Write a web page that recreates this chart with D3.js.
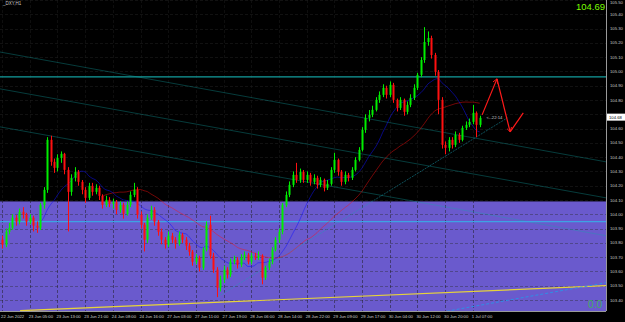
<!DOCTYPE html>
<html>
<head>
<meta charset="utf-8">
<script src="https://cdn.jsdelivr.net/npm/d3@7"></script>
<style>
  body { margin: 0; background: #000; }
  svg { display: block; }
</style>
</head>
<body>
<div id="wrapper"></div>
<script>
// chart data (H1 bars, bar index 0 = left edge)
const symbolLabel = "_DXY,H1"
const timeLabels = ["22 Jun 2022", "23 Jun 05:00", "23 Jun 13:00", "23 Jun 21:00", "24 Jun 08:00",
  "24 Jun 16:00", "27 Jun 03:00", "27 Jun 11:00", "27 Jun 19:00", "28 Jun 06:00", "28 Jun 14:00",
  "28 Jun 22:00", "29 Jun 09:00", "29 Jun 17:00", "30 Jun 04:00", "30 Jun 12:00", "30 Jun 20:00",
  "1 Jul 07:00"]
const labelEvery = 8
const priceTicks = ["103.40", "103.50", "103.60", "103.70", "103.80", "103.90", "104.00", "104.10",
  "104.20", "104.30", "104.40", "104.50", "104.60", "104.70", "104.80", "104.90", "105.00", "105.10",
  "105.20", "105.30", "105.40", "105.50"]

const opens = [103.822, 103.787, 103.878, 103.906, 103.976, 103.948, 104.017, 103.997, 103.948, 103.976,
  103.920, 103.906, 104.066, 104.171, 104.521, 104.367, 104.325, 104.395, 104.423, 104.311,
  104.157, 104.255, 104.297, 104.227, 104.171, 104.115, 104.199, 104.157, 104.185, 104.129,
  104.066, 104.101, 104.073, 104.087, 104.031, 104.066, 104.003, 104.066, 104.136, 104.171,
  103.997, 103.927, 103.822, 103.976, 104.031, 103.948, 103.878, 103.822, 103.787, 103.850,
  103.822, 103.794, 103.857, 103.822, 103.780, 103.738, 103.668, 103.696, 103.626, 103.752,
  103.927, 103.710, 103.612, 103.486, 103.542, 103.612, 103.577, 103.668, 103.682, 103.647,
  103.696, 103.717, 103.668, 103.710, 103.696, 103.710, 103.556, 103.626, 103.668, 103.752,
  103.822, 103.878, 104.066, 104.136, 104.206, 104.276, 104.241, 104.297, 104.241, 104.276,
  104.227, 104.255, 104.206, 104.241, 104.185, 104.213, 104.311, 104.381, 104.297, 104.227,
  104.276, 104.255, 104.311, 104.381, 104.451, 104.591, 104.675, 104.696, 104.731, 104.801,
  104.836, 104.885, 104.836, 104.906, 104.801, 104.745, 104.801, 104.717, 104.766, 104.815,
  104.885, 104.976, 105.080, 105.206, 105.234, 105.115, 104.997, 104.801, 104.486, 104.465,
  104.521, 104.486, 104.556, 104.521, 104.605, 104.626, 104.647, 104.710, 104.626]
const highs = [103.850, 103.900, 103.940, 104.000, 103.995, 104.040, 104.050, 104.010, 104.000, 103.990,
  103.950, 104.080, 104.190, 104.540, 104.550, 104.390, 104.420, 104.440, 104.430, 104.330,
  104.280, 104.330, 104.310, 104.240, 104.190, 104.220, 104.220, 104.210, 104.200, 104.140,
  104.130, 104.120, 104.110, 104.100, 104.090, 104.080, 104.090, 104.160, 104.220, 104.190,
  104.020, 103.940, 104.000, 104.060, 104.050, 103.960, 103.900, 103.840, 103.880, 103.870,
  103.840, 103.880, 103.870, 103.840, 103.800, 103.750, 103.720, 103.710, 103.770, 103.950,
  103.990, 103.730, 103.630, 103.570, 103.640, 103.630, 103.690, 103.710, 103.700, 103.720,
  103.740, 103.730, 103.730, 103.730, 103.740, 103.720, 103.640, 103.690, 103.770, 103.840,
  103.900, 104.080, 104.160, 104.230, 104.300, 104.360, 104.320, 104.310, 104.300, 104.290,
  104.280, 104.270, 104.260, 104.250, 104.240, 104.330, 104.430, 104.390, 104.310, 104.300,
  104.290, 104.330, 104.400, 104.470, 104.610, 104.700, 104.730, 104.760, 104.820, 104.860,
  104.910, 104.900, 104.930, 104.920, 104.810, 104.820, 104.810, 104.790, 104.840, 104.910,
  104.990, 105.100, 105.310, 105.280, 105.250, 105.130, 105.010, 104.820, 104.510, 104.540,
  104.540, 104.580, 104.570, 104.620, 104.650, 104.670, 104.766, 104.720, 104.690]
const lows = [103.760, 103.770, 103.860, 103.890, 103.920, 103.930, 103.970, 103.920, 103.930, 103.880,
  103.870, 103.890, 104.040, 104.150, 104.340, 104.290, 104.300, 104.360, 104.280, 103.880,
  104.130, 104.230, 104.200, 104.140, 104.080, 104.100, 104.130, 104.140, 104.100, 104.040,
  104.050, 104.050, 104.040, 104.000, 104.010, 103.970, 103.990, 104.050, 104.120, 103.970,
  103.900, 103.740, 103.800, 103.960, 103.920, 103.850, 103.790, 103.760, 103.770, 103.800,
  103.760, 103.780, 103.800, 103.750, 103.710, 103.640, 103.650, 103.600, 103.610, 103.740,
  103.690, 103.590, 103.420, 103.460, 103.520, 103.550, 103.560, 103.650, 103.620, 103.630,
  103.680, 103.650, 103.650, 103.680, 103.680, 103.510, 103.540, 103.610, 103.650, 103.740,
  103.800, 103.860, 104.050, 104.120, 104.190, 104.220, 104.220, 104.220, 104.220, 104.200,
  104.210, 104.180, 104.190, 104.160, 104.170, 104.200, 104.290, 104.270, 104.200, 104.210,
  104.230, 104.240, 104.300, 104.370, 104.440, 104.570, 104.650, 104.680, 104.720, 104.780,
  104.820, 104.810, 104.820, 104.780, 104.720, 104.730, 104.690, 104.700, 104.750, 104.800,
  104.870, 104.960, 105.060, 105.180, 105.090, 104.970, 104.700, 104.460, 104.420, 104.440,
  104.460, 104.470, 104.500, 104.510, 104.590, 104.610, 104.630, 104.540, 104.610]
const closes = [103.787, 103.878, 103.906, 103.976, 103.948, 104.017, 103.997, 103.948, 103.976, 103.920,
  103.906, 104.066, 104.171, 104.521, 104.367, 104.325, 104.395, 104.423, 104.311, 104.157,
  104.255, 104.297, 104.227, 104.171, 104.115, 104.199, 104.157, 104.185, 104.129, 104.066,
  104.101, 104.073, 104.087, 104.031, 104.066, 104.003, 104.066, 104.136, 104.171, 103.997,
  103.927, 103.822, 103.976, 104.031, 103.948, 103.878, 103.822, 103.787, 103.850, 103.822,
  103.794, 103.857, 103.822, 103.780, 103.738, 103.668, 103.696, 103.626, 103.752, 103.927,
  103.710, 103.612, 103.486, 103.542, 103.612, 103.577, 103.668, 103.682, 103.647, 103.696,
  103.717, 103.668, 103.710, 103.696, 103.710, 103.556, 103.626, 103.668, 103.752, 103.822,
  103.878, 104.066, 104.136, 104.206, 104.276, 104.241, 104.297, 104.241, 104.276, 104.227,
  104.255, 104.206, 104.241, 104.185, 104.213, 104.311, 104.381, 104.297, 104.227, 104.276,
  104.255, 104.311, 104.381, 104.451, 104.591, 104.675, 104.696, 104.731, 104.801, 104.836,
  104.885, 104.836, 104.906, 104.801, 104.745, 104.801, 104.717, 104.766, 104.815, 104.885,
  104.976, 105.080, 105.206, 105.234, 105.115, 104.997, 104.801, 104.486, 104.465, 104.521,
  104.486, 104.556, 104.521, 104.605, 104.626, 104.647, 104.710, 104.626, 104.675]

const fastPeriod = 12
const slowPeriod = 30

// chart objects: [barIndex, price] pairs
const zoneTop = 104.09
const resistanceLevel = 104.962
const zoneLevel = 103.948
const channelLines = [
  [[-0.6, 105.136], [174.5, 104.367]],
  [[-0.6, 104.878], [174.5, 104.115]],
  [[-0.6, 104.612], [174.5, 103.850]],
]
const supportLine = [[62.4, 103.423], [146, 104.675]]
const yellowLine = [[5.2, 103.325], [174.5, 103.50]]
const blueDashLine = [[122.8, 103.297], [174.5, 103.521]]
const arrowPath = [[138.7, 104.696], [143, 104.948], [146.8, 104.577], [150.6, 104.71]]
const lastPrice = "104.68"
const bidText = "104.69"
const countdown = "<--22:14"

async function drawChart() {
  const dimensions = { width: 625, height: 322, plotRight: 606, plotBottom: 311 }

  const data = closes.map((c, i) => ({ i, o: opens[i], h: highs[i], l: lows[i], c }))

  const xScale = d3.scaleLinear().domain([-0.6, 174.5]).range([0, dimensions.plotRight])
  const yScale = d3.scaleLinear().domain([103.33, 105.50]).range([310, 0])

  const svg = d3.select("#wrapper").append("svg")
      .attr("width", dimensions.width)
      .attr("height", dimensions.height)
      .style("font-family", "'Liberation Sans', Arial, sans-serif")

  svg.append("rect").attr("width", dimensions.width).attr("height", dimensions.height).attr("fill", "#000")

  svg.append("defs").append("clipPath").attr("id", "plot-clip")
    .append("rect").attr("width", dimensions.plotRight).attr("height", dimensions.plotBottom)

  svg.select("defs").append("marker")
      .attr("id", "arrowhead")
      .attr("viewBox", "0 0 8 8")
      .attr("refX", 7).attr("refY", 4)
      .attr("markerWidth", 5).attr("markerHeight", 5)
      .attr("markerUnits", "userSpaceOnUse")
      .attr("orient", "auto")
    .append("path")
      .attr("d", "M0,0 L7,4 L0,8")
      .attr("fill", "none")
      .attr("stroke", "#ff1a1a")
      .attr("stroke-width", 1.4)

  const plot = svg.append("g").attr("clip-path", "url(#plot-clip)")

  // purple zone rectangle
  plot.append("rect")
      .attr("x", xScale(-0.6))
      .attr("y", yScale(zoneTop))
      .attr("width", xScale(174.5) - xScale(-0.6))
      .attr("height", dimensions.plotBottom - yScale(zoneTop))
      .attr("fill", "#6a5acd")

  // grid
  plot.append("g").selectAll("line").data(priceTicks).join("line")
      .attr("x1", 0).attr("x2", dimensions.plotRight)
      .attr("y1", d => Math.round(yScale(+d)) + 0.5)
      .attr("y2", d => Math.round(yScale(+d)) + 0.5)
      .attr("stroke", "#2a2a2a")
      .attr("stroke-opacity", 0.4)
      .attr("stroke-dasharray", "3,2")
  plot.append("g").selectAll("line").data(timeLabels).join("line")
      .attr("x1", (d, k) => Math.round(xScale(k * labelEvery)) + 0.5)
      .attr("x2", (d, k) => Math.round(xScale(k * labelEvery)) + 0.5)
      .attr("y1", 0).attr("y2", dimensions.plotBottom)
      .attr("stroke", "#1c1c1c")
      .attr("stroke-opacity", 0.5)
      .attr("stroke-dasharray", "3,2")

  const line = d3.line().x(d => xScale(d[0])).y(d => yScale(d[1]))

  // trend channel
  plot.append("g").selectAll("path").data(channelLines).join("path")
      .attr("d", line)
      .attr("fill", "none")
      .attr("stroke", "#12a8a8")
      .attr("stroke-opacity", 0.35)
      .attr("stroke-width", 1)

  plot.append("path").attr("d", line(yellowLine))
      .attr("fill", "none").attr("stroke", "#e6d23c").attr("stroke-width", 1.2)

  plot.append("path").attr("d", line(blueDashLine))
      .attr("fill", "none").attr("stroke", "#2e8fe6").attr("stroke-width", 1)
      .attr("stroke-dasharray", "3,2")

  plot.append("path").attr("d", line(supportLine))
      .attr("fill", "none").attr("stroke", "#1aa0b4").attr("stroke-opacity", 0.5)
      .attr("stroke-width", 1).attr("stroke-dasharray", "2,1")

  // horizontal levels
  plot.append("line")
      .attr("x1", 0).attr("x2", dimensions.plotRight)
      .attr("y1", yScale(resistanceLevel)).attr("y2", yScale(resistanceLevel))
      .attr("stroke", "#139e9e").attr("stroke-width", 1.2)
  plot.append("line")
      .attr("x1", 0).attr("x2", dimensions.plotRight)
      .attr("y1", yScale(zoneLevel)).attr("y2", yScale(zoneLevel))
      .attr("stroke", "#3ea2e4").attr("stroke-width", 1.3)

  // moving averages
  const sma = period => closes.map((c, i) => i < period - 1 ? null :
      [i, d3.mean(closes.slice(i - period + 1, i + 1))]).filter(d => d)
  plot.append("path").attr("d", d3.line().curve(d3.curveMonotoneX)
        .x(d => xScale(d[0])).y(d => yScale(d[1]))(sma(slowPeriod)))
      .attr("fill", "none").attr("stroke", "#ff1010").attr("stroke-opacity", 0.45).attr("stroke-width", 1)
  plot.append("path").attr("d", d3.line().curve(d3.curveMonotoneX)
        .x(d => xScale(d[0])).y(d => yScale(d[1]))(sma(fastPeriod)))
      .attr("fill", "none").attr("stroke", "#1010ff").attr("stroke-opacity", 0.5).attr("stroke-width", 1)

  // candles
  const candles = plot.append("g").selectAll("g").data(data).join("g")
  const candleColor = d => d.c >= d.o ? "#00ee00" : "#ff1010"
  candles.append("line")
      .attr("x1", d => Math.round(xScale(d.i)) + 0.5)
      .attr("x2", d => Math.round(xScale(d.i)) + 0.5)
      .attr("y1", d => yScale(d.h))
      .attr("y2", d => yScale(d.l))
      .attr("stroke", candleColor)
      .attr("stroke-width", 1)
  candles.append("rect")
      .attr("x", d => Math.round(xScale(d.i)) - 0.5)
      .attr("width", 2)
      .attr("y", d => yScale(Math.max(d.o, d.c)))
      .attr("height", d => Math.max(1, Math.abs(yScale(d.o) - yScale(d.c))))
      .attr("fill", candleColor)

  // hand drawn projection arrows
  arrowPath.slice(1).forEach((p, k) => {
    plot.append("line")
        .attr("x1", xScale(arrowPath[k][0])).attr("y1", yScale(arrowPath[k][1]))
        .attr("x2", xScale(p[0])).attr("y2", yScale(p[1]))
        .attr("stroke", "#ff1a1a").attr("stroke-width", 1.2)
        .attr("marker-end", k < 2 ? "url(#arrowhead)" : null)
  })

  plot.append("text")
      .attr("x", xScale(140)).attr("y", yScale(104.675) + 1.5)
      .attr("font-size", 4.2).attr("fill", "#c8c8c8")
      .text(countdown)

  // axes frame
  svg.append("line")
      .attr("x1", dimensions.plotRight + 0.5).attr("x2", dimensions.plotRight + 0.5)
      .attr("y1", 0).attr("y2", dimensions.plotBottom)
      .attr("stroke", "#9a9a9a")
  svg.append("line")
      .attr("x1", 0).attr("x2", dimensions.plotRight)
      .attr("y1", dimensions.plotBottom + 0.5).attr("y2", dimensions.plotBottom + 0.5)
      .attr("stroke", "#9a9a9a")

  // price labels, skipping the one hidden behind the current price box
  const lastY = yScale(+lastPrice)
  svg.append("g").selectAll("text")
      .data(priceTicks.filter(d => Math.abs(yScale(+d) - lastY) > 6))
      .join("text")
      .attr("x", 610)
      .attr("y", d => Math.max(4, yScale(+d) + 1.5))
      .attr("font-size", 4.2)
      .attr("fill", "#c8c8c8")
      .text(d => d)

  // current price marker
  svg.append("rect")
      .attr("x", 607).attr("y", lastY - 3.5)
      .attr("width", 18).attr("height", 7)
      .attr("fill", "#fff")
  svg.append("text")
      .attr("x", 609).attr("y", lastY + 1.5)
      .attr("font-size", 4.2).attr("fill", "#000")
      .text(lastPrice)

  svg.append("g").selectAll("text").data(timeLabels).join("text")
      .attr("x", (d, k) => xScale(k * labelEvery) - 1)
      .attr("y", 318)
      .attr("font-size", 4.2)
      .attr("fill", "#d0d0d0")
      .text(d => d)

  svg.append("text")
      .attr("x", 3).attr("y", 5)
      .attr("font-size", 4.5).attr("fill", "#c8c8c8")
      .text(symbolLabel)

  svg.append("text")
      .attr("x", 605).attr("y", 10)
      .attr("text-anchor", "end")
      .attr("font-size", 9.5).attr("fill", "#7cfc00")
      .text(bidText)

  svg.append("text")
      .attr("x", 602).attr("y", 308)
      .attr("text-anchor", "end")
      .attr("font-size", 10).attr("fill", "#3cb060")
      .text("0.0")
}
drawChart()
</script>
</body>
</html>
